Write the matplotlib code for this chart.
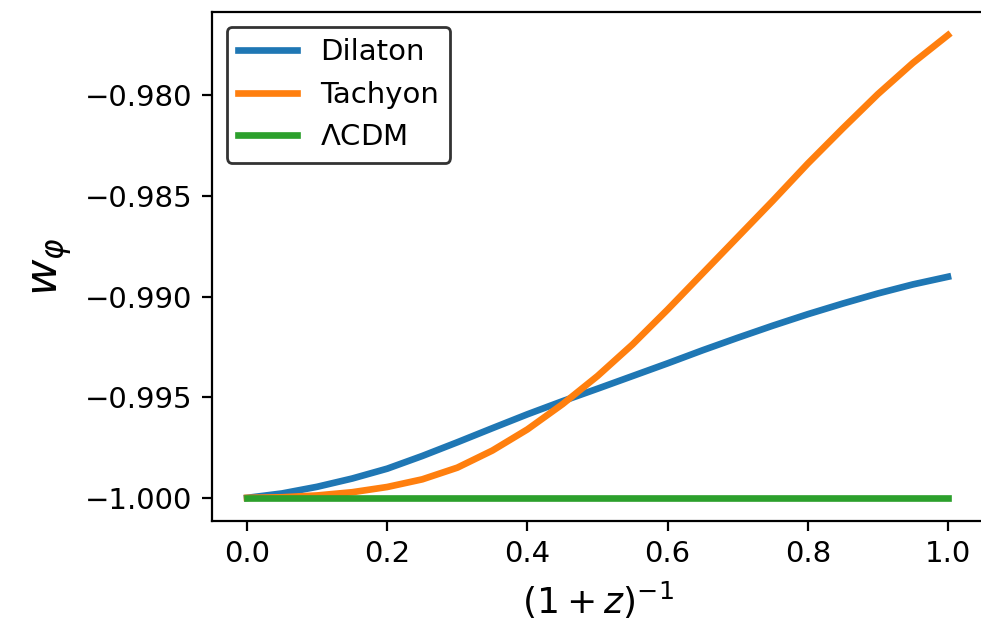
"""Equation of state w_phi against scale factor for dilaton, tachyon and LCDM."""
import matplotlib

matplotlib.use("Agg")
import matplotlib.pyplot as plt

# scale factor a = (1+z)^-1
a = [0.00, 0.05, 0.10, 0.15, 0.20, 0.25, 0.30, 0.35, 0.40, 0.45, 0.50,
     0.55, 0.60, 0.65, 0.70, 0.75, 0.80, 0.85, 0.90, 0.95, 1.00]

w_dilaton = [-1.00000, -0.99978, -0.99945, -0.99904, -0.99855, -0.99792,
             -0.99724, -0.99654, -0.99585, -0.99520, -0.99458, -0.99395,
             -0.99332, -0.99267, -0.99205, -0.99145, -0.99088, -0.99035,
             -0.98985, -0.98940, -0.98902]

w_tachyon = [-1.00000, -0.99997, -0.99988, -0.99972, -0.99946, -0.99908,
             -0.99850, -0.99765, -0.99660, -0.99535, -0.99395, -0.99238,
             -0.99065, -0.98885, -0.98705, -0.98525, -0.98340, -0.98165,
             -0.97995, -0.97840, -0.97702]

w_lcdm = [-1.0] * len(a)

plt.rcParams["font.size"] = 10.5

fig = plt.figure(figsize=(981 / 200, 624 / 200), dpi=200)
ax = fig.add_axes([212 / 981, 1 - 521 / 624, 771 / 981, 509 / 624])

ax.plot(a, w_dilaton, lw=2.4, label="Dilaton")
ax.plot(a, w_tachyon, lw=2.4, label="Tachyon")
ax.plot(a, w_lcdm, lw=2.4, label=r"$\Lambda$CDM")

ax.set_xlabel(r"$(1+z)^{-1}$", fontsize=13)
ax.set_ylabel(r"$w_\varphi$", fontsize=16)
ax.legend(loc="upper left", edgecolor="black")

fig.savefig("out.png", dpi=200)
